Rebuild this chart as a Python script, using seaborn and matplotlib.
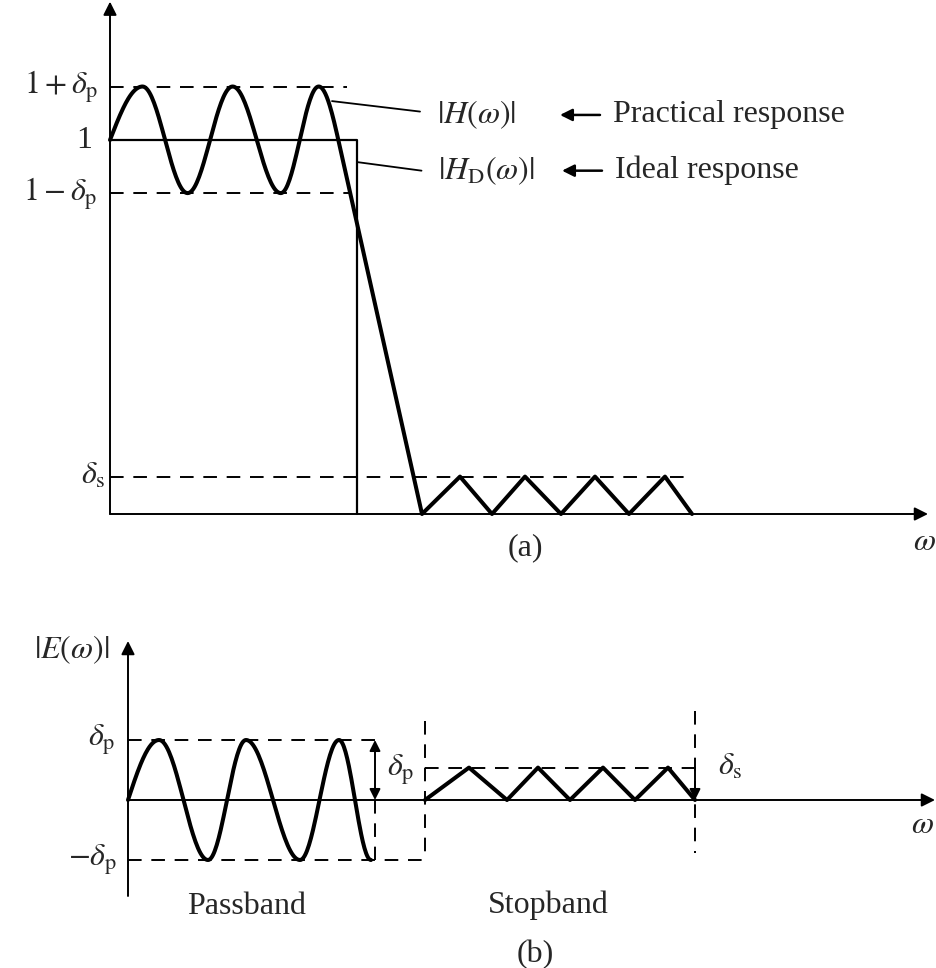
import numpy as np
import matplotlib
matplotlib.use("Agg")
import matplotlib.pyplot as plt
import seaborn as sns

# ---------------- data ----------------
# (a) magnitude response
DELTA_P = 0.143
DELTA_S = 0.10
PB_EXT_X = [0.0, 0.325, 0.776, 1.226, 1.708, 2.087]          # passband extrema
PB_EXT_Y = [1.0, 1.143, 0.858, 1.143, 0.858, 1.143]
TRANS_X = [2.30, 3.12]                                        # transition band
TRANS_Y = [0.98, 0.0]
SB_X = [3.12, 3.50, 3.82, 4.15, 4.51, 4.85, 5.19, 5.55, 5.82]  # stopband ripple
SB_Y = [0.0, 0.10, 0.0, 0.10, 0.0, 0.10, 0.0, 0.10, 0.0]
IDEAL_X = [0.0, 2.47, 2.47]
IDEAL_Y = [1.0, 1.0, 0.0]
TOP_LEVELS = [1 + DELTA_P, 1.0, 1 - DELTA_P, DELTA_S]
TOP_LEVEL_LABELS = [r"$1+\delta_{\mathrm{p}}$", "1", r"$1-\delta_{\mathrm{p}}$", r"$\delta_{\mathrm{s}}$"]
TOP_DASH_END = [2.37, None, 2.40, 5.80]

# (b) error function
E_DP = 1.0
E_DS = 0.54
E_PB_X = [0.0, 0.31, 0.80, 1.18, 1.72, 2.11, 2.43]
E_PB_Y = [0.0, 1.0, -1.0, 1.0, -1.0, 1.0, -1.0]
E_SB_X = [2.97, 3.41, 3.79, 4.10, 4.42, 4.75, 5.07, 5.40, 5.67]
E_SB_Y = [0.0, 0.54, 0.0, 0.54, 0.0, 0.54, 0.0, 0.54, 0.0]
PASS_EDGE_B = 2.47
STOP_EDGE_B = 2.97
STOP_END_B = 5.67

# ---------------- style ----------------
sns.set_theme(style="white")
plt.rcParams["font.family"] = ["Liberation Serif", "DejaVu Serif"]
plt.rcParams["mathtext.fontset"] = "stix"
FS = 23
THICK = 2.9
THIN = 1.4
DASH = (0, (7, 5))
K = "black"

W, H = 937, 968
fig = plt.figure(figsize=(W / 100, H / 100), dpi=100)
fig.patch.set_facecolor("white")


def make_axes(top_px, bot_px, x0_px, xscale, y0_px, yscale):
    ax = fig.add_axes([0, 1 - bot_px / H, 1, (bot_px - top_px) / H])
    ax.set_xlim((0 - x0_px) / xscale, (W - x0_px) / xscale)
    ax.set_ylim((y0_px - bot_px) / yscale, (y0_px - top_px) / yscale)
    ax.axis("off")
    return ax


def ripple(xs, ys, first_quarter=True, n=40):
    """Smooth curve through the read extrema (cosine-shaped half waves)."""
    px, py = [], []
    for i in range(len(xs) - 1):
        t = np.linspace(0, 1, n)
        if i == 0 and first_quarter:
            s = np.sin(np.pi / 2 * t)
        else:
            s = (1 - np.cos(np.pi * t)) / 2
        px.extend(xs[i] + (xs[i + 1] - xs[i]) * t)
        py.extend(ys[i] + (ys[i + 1] - ys[i]) * s)
    return np.array(px), np.array(py)


def arrow(ax, start, end, style="-|>", lw=THIN, ms=20):
    ax.annotate("", xy=end, xytext=start,
                arrowprops=dict(arrowstyle=style, lw=lw, color=K,
                                mutation_scale=ms, shrinkA=0, shrinkB=0))


# ================= (a) =================
ax = make_axes(0, 600, 110, 100, 514, 374)

# axes with arrows
arrow(ax, (0, 0), (0, 1.37))
arrow(ax, (0, 0), (8.18, 0))

# dashed tolerance lines
for lvl, end in zip(TOP_LEVELS, TOP_DASH_END):
    if end is not None:
        ax.plot([0, end], [lvl, lvl], color=K, lw=THIN, ls=DASH)

# ideal response
sns.lineplot(x=IDEAL_X, y=IDEAL_Y, sort=False, estimator=None, color=K, lw=1.6, ax=ax)

# practical response
px, py = ripple(PB_EXT_X, PB_EXT_Y)
t = np.linspace(0, 1, 30)
qx = PB_EXT_X[-1] + (TRANS_X[0] - PB_EXT_X[-1]) * t
qy = PB_EXT_Y[-1] + (TRANS_Y[0] - PB_EXT_Y[-1]) * (1 - np.cos(np.pi / 2 * t))
cx = np.concatenate([px, qx, TRANS_X[1:], SB_X[1:]])
cy = np.concatenate([py, qy, TRANS_Y[1:], SB_Y[1:]])
sns.lineplot(x=cx, y=cy, sort=False, estimator=None, color=K, lw=THICK, ax=ax)

# level labels
label_x = [-0.12, -0.18, -0.13, -0.05]
for lvl, lab, lx in zip(TOP_LEVELS, TOP_LEVEL_LABELS, label_x):
    ax.text(lx, lvl, lab, ha="right", va="center", fontsize=FS)

# leader lines and legends
ax.plot([2.22, 3.10], [1.104, 1.076], color=K, lw=1.3)
ax.plot([2.47, 3.115], [0.941, 0.918], color=K, lw=1.3)
ax.text(3.27, 1.067, r"$|H(\omega)|$", ha="left", va="center", fontsize=FS)
ax.text(3.28, 0.918, r"$|H_{\mathrm{D}}(\omega)|$", ha="left", va="center", fontsize=FS)
arrow(ax, (4.90, 1.067), (4.50, 1.067), lw=1.8, ms=18)
arrow(ax, (4.92, 0.918), (4.52, 0.918), lw=1.8, ms=18)
ax.text(5.03, 1.067, "Practical response", ha="left", va="center", fontsize=FS)
ax.text(5.05, 0.918, "Ideal response", ha="left", va="center", fontsize=FS)

ax.text(8.26, -0.075, r"$\omega$", ha="right", va="center", fontsize=FS)
ax.text(4.15, -0.091, "(a)", ha="center", va="center", fontsize=FS)

# ================= (b) =================
bx = make_axes(600, 968, 128, 100, 800, 60)

arrow(bx, (0, -1.6), (0, 2.65))
arrow(bx, (0, 0), (8.07, 0))

# dashed tolerance lines
bx.plot([0, PASS_EDGE_B], [E_DP, E_DP], color=K, lw=THIN, ls=DASH)
bx.plot([0, STOP_EDGE_B], [-E_DP, -E_DP], color=K, lw=THIN, ls=DASH)
bx.plot([PASS_EDGE_B, PASS_EDGE_B], [0, -E_DP], color=K, lw=THIN, ls=DASH)
bx.plot([STOP_EDGE_B, STOP_EDGE_B], [1.32, -E_DP], color=K, lw=THIN, ls=DASH)
bx.plot([STOP_EDGE_B, STOP_END_B], [E_DS, E_DS], color=K, lw=THIN, ls=DASH)
bx.plot([STOP_END_B, STOP_END_B], [1.48, -0.88], color=K, lw=THIN, ls=DASH)

# error curve
ex, ey = ripple(E_PB_X, E_PB_Y)
sns.lineplot(x=ex, y=ey, sort=False, estimator=None, color=K, lw=THICK, ax=bx)
sns.lineplot(x=E_SB_X, y=E_SB_Y, sort=False, estimator=None, color=K, lw=THICK, ax=bx)

# deviation arrows
arrow(bx, (PASS_EDGE_B, 0), (PASS_EDGE_B, E_DP), style="<|-|>", ms=16)
arrow(bx, (STOP_END_B, E_DS), (STOP_END_B, 0), ms=16)

# labels
bx.text(-0.56, 2.5, r"$|E(\omega)|$", ha="center", va="center", fontsize=FS)
bx.text(-0.13, E_DP, r"$\delta_{\mathrm{p}}$", ha="right", va="center", fontsize=FS)
bx.text(-0.11, -E_DP, r"$-\delta_{\mathrm{p}}$", ha="right", va="center", fontsize=FS)
bx.text(2.59, 0.5, r"$\delta_{\mathrm{p}}$", ha="left", va="center", fontsize=FS)
bx.text(5.90, 0.55, r"$\delta_{\mathrm{s}}$", ha="left", va="center", fontsize=FS)
bx.text(8.06, -0.42, r"$\omega$", ha="right", va="center", fontsize=FS)
bx.text(1.19, -1.78, "Passband", ha="center", va="center", fontsize=FS)
bx.text(4.20, -1.75, "Stopband", ha="center", va="center", fontsize=FS)
bx.text(4.07, -2.57, "(b)", ha="center", va="center", fontsize=FS)

fig.savefig("out.png", dpi=100, facecolor="white")
